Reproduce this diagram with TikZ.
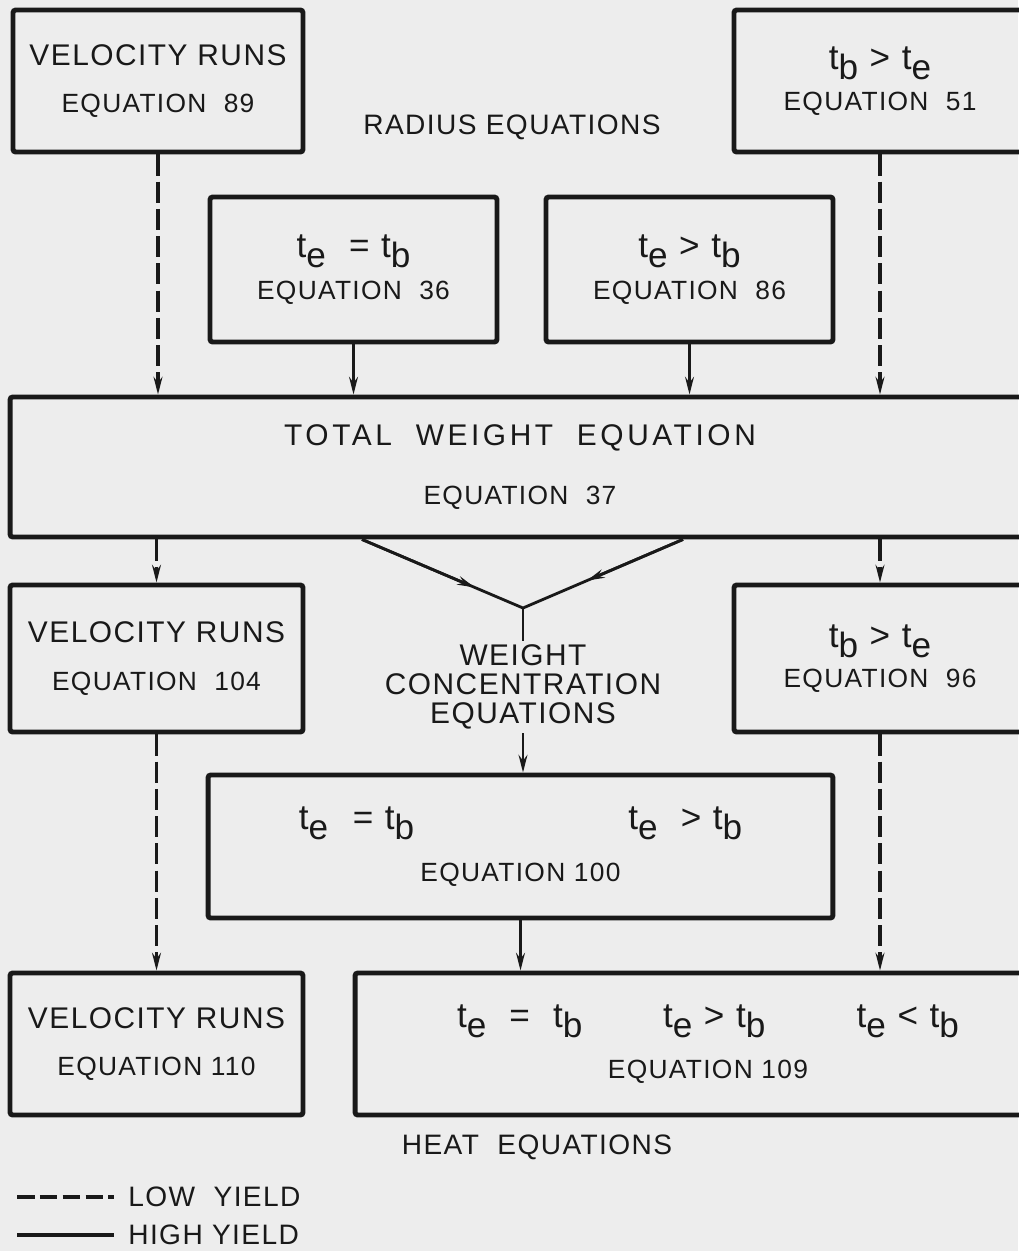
\documentclass[tikz,border=0pt]{standalone}
\usepackage{fontspec}
\setmainfont{Liberation Sans}[LetterSpace=5]
\usetikzlibrary{arrows.meta,calc}
\newcommand\lowsub[1]{\raisebox{-0.55ex}{#1}}
\newcommand\ts[1]{t\lowsub{#1}}
\newcommand\trow{\fontsize{20}{20}\selectfont}
\newcommand\eqf{\fontsize{15}{18}\selectfont}
\definecolor{paper}{rgb}{0.93,0.93,0.93}
\definecolor{ink}{rgb}{0.1,0.1,0.1}
\begin{document}
\begin{tikzpicture}[x=0.02cm,y=-0.02cm, every node/.style={text=ink},
  box/.style={draw=ink, line width=2.8pt, rounded corners=1.5pt, inner sep=0pt, align=center,
              font=\fontsize{17}{18}\selectfont},
  lbl/.style={inner sep=2pt, align=center, font=\fontsize{16}{18}\selectfont},
  tip/.style={-{Stealth[length=10pt,width=5pt]}},
  dsh/.style={draw=ink, line width=2pt, dash pattern=on 12pt off 3.5pt, tip},
  sol/.style={draw=ink, line width=1.6pt, tip},
  ln/.style={draw=ink, line width=1.6pt}
]
\fill[paper] (0,0) rectangle (1018,1251);
\useasboundingbox (0,0) rectangle (1018,1251);

% row 1
\node[box, minimum width=5.8cm, minimum height=2.84cm] (v89) at (158,81)
  {VELOCITY RUNS\\[9pt]{\eqf EQUATION\ \ 89}};
\node[box, minimum width=5.84cm, minimum height=2.84cm] (tb51) at (880,81)
  {{\trow\ts{b} > \ts{e}}\\[5pt]{\eqf EQUATION\ \ 51}};
\node[lbl] (rad) at (512,127) {RADIUS EQUATIONS};

% row 2
\node[box, minimum width=5.74cm, minimum height=2.9cm] (te36) at (353.5,269.5)
  {{\trow\ts{e}\ \ = \ts{b}}\\[6pt]{\eqf EQUATION\ \ 36}};
\node[box, minimum width=5.74cm, minimum height=2.9cm] (te86) at (689.5,269.5)
  {{\trow\ts{e} > \ts{b}}\\[6pt]{\eqf EQUATION\ \ 86}};

% total weight
\node[box, minimum width=20.4cm, minimum height=2.8cm] (tw) at (520,467)
  {\addfontfeature{LetterSpace=12}TOTAL\ \ WEIGHT\ \ EQUATION\\[16pt]{\eqf EQUATION\ \ 37}};

% row 3
\node[box, minimum width=5.86cm, minimum height=2.94cm] (v104) at (156.5,658.5)
  {VELOCITY RUNS\\[9pt]{\eqf EQUATION\ \ 104}};
\node[box, minimum width=5.84cm, minimum height=2.94cm] (tb96) at (880,658.5)
  {{\trow\ts{b} > \ts{e}}\\[5pt]{\eqf EQUATION\ \ 96}};
\node[inner sep=2pt, align=center, font=\fontsize{17}{16.5}\selectfont] (wce) at (523,687)
  {WEIGHT\\CONCENTRATION\\EQUATIONS};

% eq 100
\node[box, minimum width=12.5cm, minimum height=2.86cm] (e100) at (520.5,846.5)
  {{\trow\ts{e}\hspace{14pt}= \ts{b}\hspace{122pt}\ts{e}\ \ > \ts{b}}\\[12pt]{\eqf EQUATION 100}};

% row 4
\node[box, minimum width=5.86cm, minimum height=2.84cm] (v110) at (156.5,1044)
  {VELOCITY RUNS\\[9pt]{\eqf EQUATION 110}};
\node[box, minimum width=14.12cm, minimum height=2.84cm] (e109) at (708,1044)
  {{\trow\ts{e}\ \ =\ \ \ts{b}\hspace{46pt}\ts{e} > \ts{b}\hspace{52pt}\ts{e} < \ts{b}}\\[11pt]{\eqf EQUATION 109}};
\node[lbl] (heat) at (537,1147) {HEAT\ \ EQUATIONS};

% connectors
\draw[dsh] (v89.south) -- (v89.south |- tw.north);
\draw[dsh] (tb51.south) -- (tb51.south |- tw.north);
\draw[sol] (te36.south) -- (te36.south |- tw.north);
\draw[sol] (te86.south) -- (te86.south |- tw.north);

\draw[dsh] (v104.north |- tw.south) -- (v104.north);
\draw[dsh] (tb96.north |- tw.south) -- (tb96.north);

\coordinate (j) at (523,608);
\coordinate (tl) at (362,0 |- tw.south);
\coordinate (tr) at (683,0 |- tw.south);
\draw[ln] (tl) -- (j) -- (tr);
\draw[sol] (tl) -- ($(tl)!0.7!(j)$);
\draw[sol] (tr) -- ($(tr)!0.6!(j)$);
\draw[ln] (j) -- (wce.north);
\draw[sol] (wce.south) -- (wce.south |- e100.north);

\draw[dsh] (v104.south) -- (v110.north);
\draw[sol] (e100.south) -- (e100.south |- e109.north);
\draw[dsh] (tb96.south) -- (tb96.south |- e109.north);

% legend
\coordinate (l1) at (17,1197);
\coordinate (l2) at (17,1235);
\node[lbl, anchor=west, inner sep=0pt] (low) at (128,1197) {LOW\ \ YIELD};
\node[lbl, anchor=west, inner sep=0pt] (high) at (128,1235) {HIGH YIELD};
\draw[ink, line width=1.8pt, dash pattern=on 10pt off 3pt] (l1) -- ([xshift=-8pt]low.west);
\draw[ink, line width=1.8pt] (l2) -- ([xshift=-8pt]high.west);
\end{tikzpicture}
\end{document}
